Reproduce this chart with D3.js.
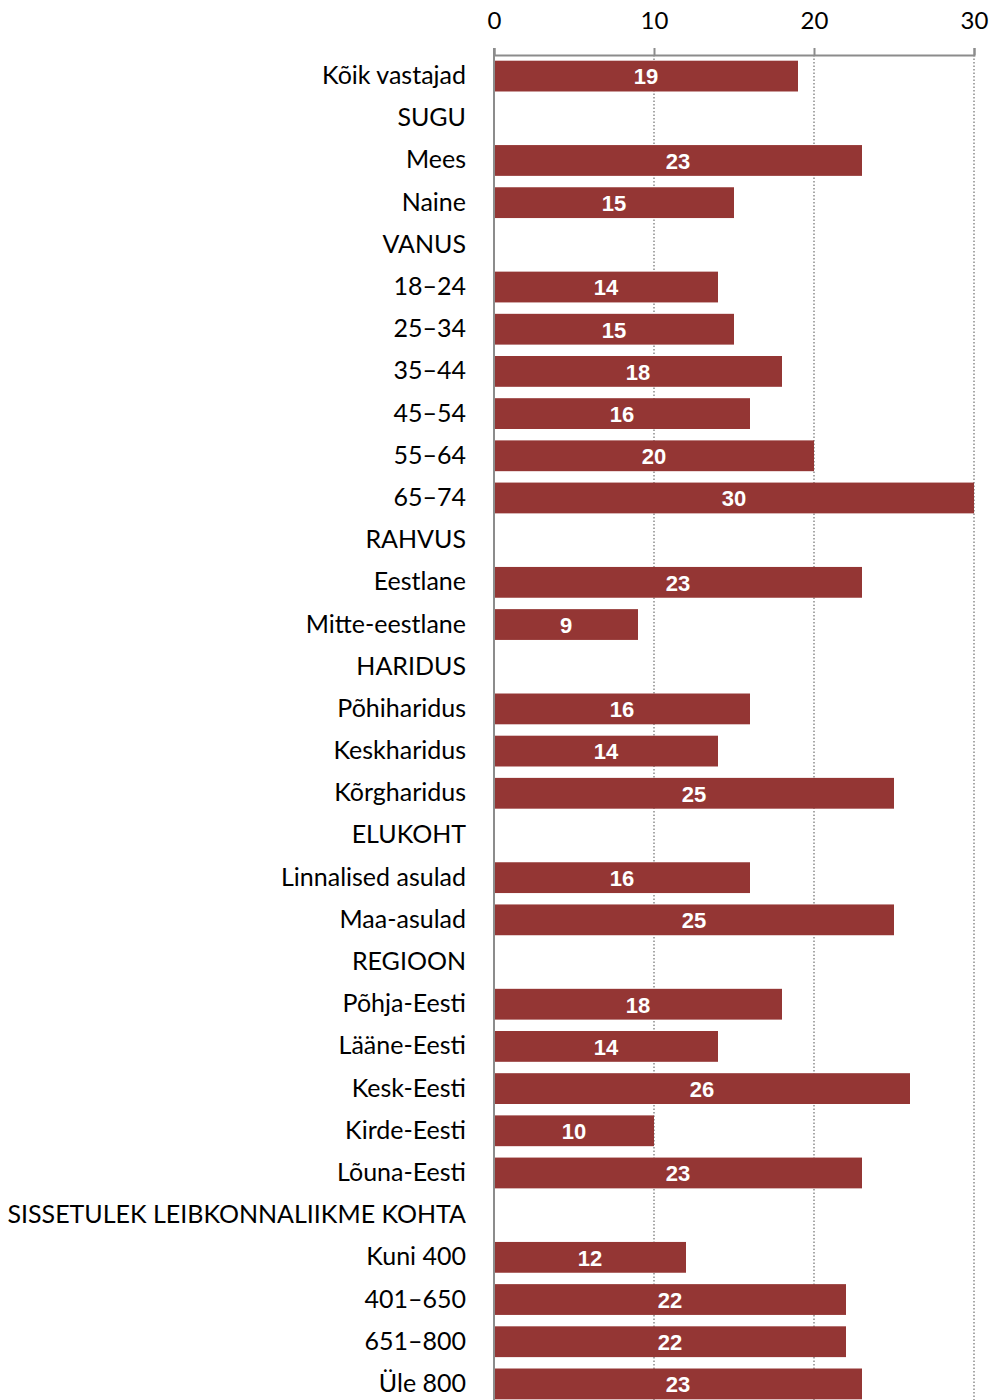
<!DOCTYPE html>
<html><head><meta charset="utf-8">
<script src="https://cdn.jsdelivr.net/npm/d3@7"></script>
<style>body{margin:0;background:#fff}svg{display:block}</style>
</head><body>
<script>
const categories = ["Kõik vastajad","SUGU","Mees","Naine","VANUS","18–24","25–34","35–44","45–54","55–64","65–74","RAHVUS","Eestlane","Mitte-eestlane","HARIDUS","Põhiharidus","Keskharidus","Kõrgharidus","ELUKOHT","Linnalised asulad","Maa-asulad","REGIOON","Põhja-Eesti","Lääne-Eesti","Kesk-Eesti","Kirde-Eesti","Lõuna-Eesti","SISSETULEK LEIBKONNALIIKME KOHTA","Kuni 400","401–650","651–800","Üle 800"];
const values = [19,null,23,15,null,14,15,18,16,20,30,null,23,9,null,16,14,25,null,16,25,null,18,14,26,10,23,null,12,22,22,23];
const tickValues = [0,10,20,30];

const W = 991, H = 1400;
const svg = d3.select("body").append("svg").attr("width", W).attr("height", H);
const x = d3.scaleLinear().domain([0,30]).range([494,974]);
const y = d3.scaleBand().domain(categories).range([55,1405]).paddingInner(0.27).paddingOuter(0.135);

// gridlines
svg.append("g").selectAll("line").data(tickValues.slice(1)).join("line")
  .attr("x1", d=>x(d)).attr("x2", d=>x(d)).attr("y1",55).attr("y2",H)
  .attr("stroke","#8c8c8c").attr("stroke-width",1.5).attr("stroke-dasharray","1.5,2");

// bars
const data = categories.map((c,i)=>({c, v: values[i]})).filter(d=>d.v!=null);
svg.append("g").selectAll("rect").data(data).join("rect")
  .attr("x", x(0)).attr("y", d=>y(d.c)).attr("width", d=>x(d.v)-x(0)).attr("height", y.bandwidth())
  .attr("fill","#943634");
svg.append("g").selectAll("text").data(data).join("text")
  .attr("x", d=>(x(0)+x(d.v))/2).attr("y", d=>y(d.c)+y.bandwidth()/2).attr("dy","0.38em")
  .attr("text-anchor","middle").attr("fill","#fff")
  .style("font-family","'Liberation Sans',Arial,sans-serif").style("font-weight","bold").style("font-size","22px")
  .text(d=>d.v);

// top axis
const ax = svg.append("g").attr("transform","translate(0,55)")
  .call(d3.axisTop(x).tickValues(tickValues).tickSize(7).tickPadding(19).tickFormat(d3.format("d")));
ax.select(".domain").attr("stroke","#8c8c8c").attr("stroke-width",2);
ax.selectAll(".tick line").attr("stroke","#8c8c8c").attr("stroke-width",2);
ax.selectAll(".tick text").style("font-family","Lato,'Open Sans',sans-serif").style("font-size","24px").attr("fill","#000");

// left axis
const ay = svg.append("g").attr("transform","translate(494,0)")
  .call(d3.axisLeft(y).tickSize(0).tickPadding(28));
ay.select(".domain").remove();
svg.append("line").attr("x1",494).attr("x2",494).attr("y1",48).attr("y2",H).attr("stroke","#8c8c8c").attr("stroke-width",2);
ay.selectAll(".tick text").style("font-family","Lato,'Open Sans',sans-serif").style("font-size","25px").attr("fill","#000");
</script>
</body></html>
